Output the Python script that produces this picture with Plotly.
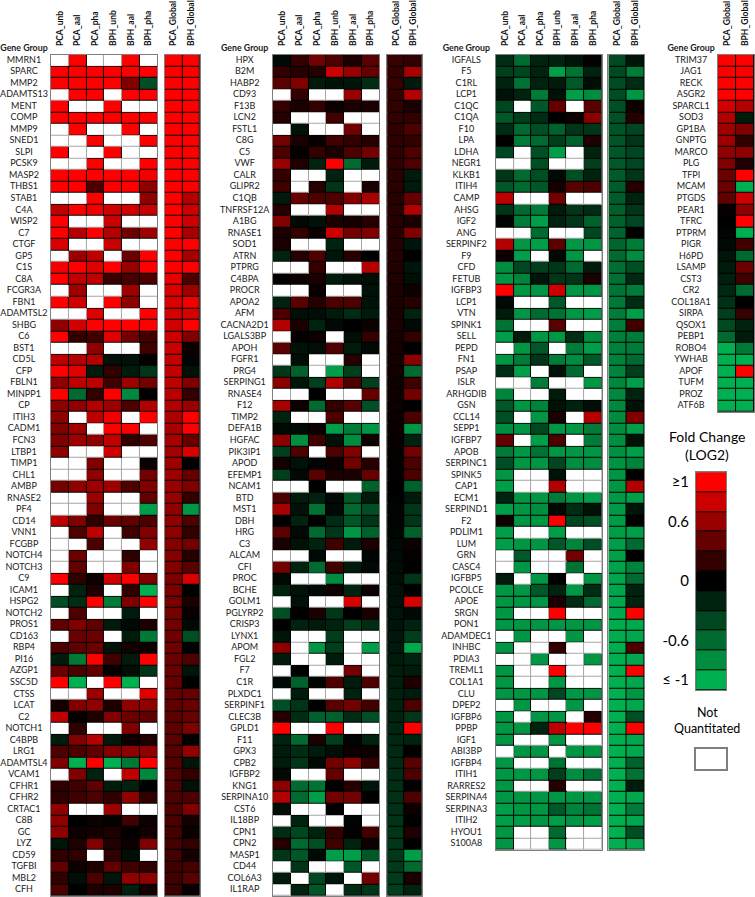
import plotly.graph_objects as go

N = None  # not quantitated (white cell)

cols_main = ["PCA_unb", "PCA_aal", "PCA_pha", "BPH_unb", "BPH_aal", "BPH_pha"]
cols_global = ["PCA_Global", "BPH_Global"]

# ---------------- panel 1 ----------------
p1_genes = ["MMRN1", "SPARC", "MMP2", "ADAMTS13", "MENT", "COMP", "MMP9", "SNED1", "SLPI", "PCSK9",
            "MASP2", "THBS1", "STAB1", "C4A", "WISP2", "C7", "CTGF", "GP5", "C1S", "C8A",
            "FCGR3A", "FBN1", "ADAMTSL2", "SHBG", "C6", "BST1", "CD5L", "CFP", "FBLN1", "MINPP1",
            "CP", "ITIH3", "CADM1", "FCN3", "LTBP1", "TIMP1", "CHL1", "AMBP", "RNASE2", "PF4",
            "CD14", "VNN1", "FCGBP", "NOTCH4", "NOTCH3", "C9", "ICAM1", "HSPG2", "NOTCH2", "PROS1",
            "CD163", "RBP4", "PI16", "AZGP1", "SSC5D", "CTSS", "LCAT", "C2", "NOTCH1", "C4BPB",
            "LRG1", "ADAMTSL4", "VCAM1", "CFHR1", "CFHR2", "CRTAC1", "C8B", "GC", "LYZ", "CD59",
            "TGFBI", "MBL2", "CFH"]
p1_main = [
    [N, 1, N, N, 1, N], [1, 1, 1, 1, 1, 1], [1, 1, 1, 1, 0.5, -0.45], [N, 1, 1, N, 1, 1],
    [1, N, N, 1, N, N], [1, 1, 1, 1, 1, 1], [N, 1, N, N, 1, N], [N, N, 1, N, N, 1],
    [1, N, N, 1, N, N], [N, N, 1, N, N, 1], [1, 1, 1, 1, 1, 0.95], [1, 1, 0.3, 1, 1, 0.56],
    [N, N, 1, N, N, 0.56], [0.75, 1, 0.95, 0.82, 0.82, 0.78], [1, N, N, 0.78, N, N],
    [1, 0.7, 1, 0.7, 0.42, 0.62], [0.85, N, N, 0.78, N, N], [N, 0.6, 0.75, N, 0.42, 1],
    [0.95, 1, 0.88, 1, 0.6, 1], [1, 0.75, 0.75, 0.22, 0.28, 0.3], [N, 0.62, N, N, 0.62, N],
    [1, 0.82, N, 1, 0.56, N], [N, N, 0.88, N, N, 1], [0.56, 0.82, 1, 1, 1, 1],
    [1, 0.2, 0.25, 0.88, 0.45, 0.25], [N, N, 0.56, N, N, 0.25], [0.75, 0.7, 0.7, -0.1, -0.1, 0.02],
    [1, 0.88, -0.15, 0.2, -0.15, -0.3], [0.56, 0.75, 0.75, 0.25, 0.62, 0.45],
    [1, -0.6, 0.2, 1, -0.78, 0], [0.56, 0.56, 0.7, 0.62, 0.3, 0.7], [0.56, N, 0.75, 0.95, N, 1],
    [0.5, 0.62, N, 1, 1, N], [0.5, 0.62, 0.56, 0.75, 0.18, 0.3], [0.56, N, N, 0.82, N, N],
    [N, N, 0.5, N, N, 0.05], [N, N, 0.56, N, N, 0.45], [0.45, 0.56, 0.62, 0.62, 0.3, 0.5],
    [N, N, 0.62, N, N, 0.38], [N, N, 0.5, N, N, -0.9], [0.75, 0.5, 0.18, 0.42, 0.38, 0.3],
    [N, 0.3, 0.75, N, 0.25, 0.5], [N, N, 0.3, N, N, 0.56], [N, 0.42, N, N, 0.18, N],
    [N, 0.38, N, N, 0.5, N], [1, 0.18, 0.05, 0.82, 1, 0.5], [N, -0.2, 0.12, N, 0.18, -1],
    [-0.45, -0.25, 1, -0.7, 0.5, 1], [N, 0.3, N, N, -0.15, N], [0.38, 0.5, 0.38, -0.15, -0.05, 0.12],
    [N, 0.42, 0.42, N, -0.15, -0.68], [0.3, 0.38, 0.42, -0.1, 0.08, 0.05],
    [-0.15, -0.68, 1, 0.25, -0.15, 1], [0.42, 0.3, 0.38, 0.02, -0.08, -0.3],
    [1, -1, N, 1, -1, N], [N, N, 0.62, N, N, 0.88], [0.08, 0.5, 0.56, 0.12, 0.56, 0.56],
    [0.75, 0.02, 0.12, 0.5, 0.42, 0.38], [N, 0.18, N, N, 0.5, N], [-0.15, 0.5, 0.7, -0.15, 0.05, 0.12],
    [0.3, 0.3, 0.38, 0.5, 0.56, 0.56], [0.5, -1, 1, -1, -0.68, 1], [N, 0.5, -0.2, N, 0.75, -0.78],
    [0.18, 0.25, 0.38, -0.15, -0.2, 0], [0.18, 0.25, 0.3, 0.18, 0.56, 0.18], [0.56, N, N, 0.62, N, N],
    [0.56, 0, 0.05, 0.02, 0.25, 0.05], [0.56, 0.05, 0.08, 0.12, 0.02, 0.08],
    [-0.12, 0.12, 0.5, 0.12, 0.05, 0.5], [0.18, 0.18, N, 0.18, -0.08, N],
    [0.38, 0.05, 0.12, 0.38, 0.25, 0.18], [0.18, -0.08, 0.3, -0.12, 0.56, 0.56],
    [0.3, 0, 0.12, 0.12, -0.18, 0.08],
]
p1_global = [
    [1, 1], [1, 1], [1, 1], [1, 1], [1, 1], [1, 1], [1, 1], [1, 1], [1, 1], [1, 1],
    [1, 1], [1, 1], [1, 0.7], [1, 0.8], [1, 0.8], [1, 0.65], [1, 1], [1, 0.65], [1, 1], [0.9, 0.3],
    [0.85, 0.62], [0.85, 0.95], [0.84, 0.85], [0.82, 1], [0.8, 0.5], [0.79, 0.05], [0.77, -0.02],
    [0.76, -0.1], [0.74, 0.5], [0.72, 0.2], [0.7, 0.6], [0.68, 1], [0.66, 1], [0.65, 0.4],
    [0.64, 0.85], [0.62, 0], [0.61, 0.4], [0.6, 0.5], [0.59, 0.2], [0.57, -0.85], [0.56, 0.3],
    [0.55, 0.2], [0.53, 0.45], [0.52, 0.15], [0.51, 0.35], [0.49, 0.85], [0.48, 0],
    [0.47, 0.1], [0.46, 0.03], [0.45, -0.05], [0.44, -0.45], [0.43, 0], [0.42, 0.3],
    [0.41, -0.12], [0.4, 0], [0.39, 0.4], [0.38, 0.42], [0.37, 0.42], [0.36, 0.5], [0.35, 0],
    [0.34, 0.58], [0.33, -0.12], [0.32, 0.2], [0.31, -0.1], [0.3, 0.3], [0.3, 0.5], [0.29, 0.08],
    [0.28, 0.04], [0.27, 0.2], [0.26, 0.08], [0.25, 0.28], [0.25, 0.35], [0.24, 0.03],
]

# ---------------- panel 2 ----------------
p2_genes = ["HPX", "B2M", "HABP2", "CD93", "F13B", "LCN2", "FSTL1", "C8G", "C5", "VWF",
            "CALR", "GLIPR2", "C1QB", "TNFRSF12A", "A1BG", "RNASE1", "SOD1", "ATRN", "PTPRG", "C4BPA",
            "PROCR", "APOA2", "AFM", "CACNA2D1", "LGALS3BP", "APOH", "FGFR1", "PRG4", "SERPING1", "RNASE4",
            "F12", "TIMP2", "DEFA1B", "HGFAC", "PIK3IP1", "APOD", "EFEMP1", "NCAM1", "BTD", "MST1",
            "DBH", "HRG", "C3", "ALCAM", "CFI", "PROC", "BCHE", "GOLM1", "PGLYRP2", "CRISP3",
            "LYNX1", "APOM", "FGL2", "F7", "C1R", "PLXDC1", "SERPINF1", "CLEC3B", "GPLD1", "F11",
            "GPX3", "CPB2", "IGFBP2", "KNG1", "SERPINA10", "CST6", "IL18BP", "CPN1", "CPN2", "MASP1",
            "CD44", "COL6A3", "IL1RAP"]
p2_main = [
    [-0.05, 0.2, 0.45, 0.3, 0.1, 0.35], [0.2, 0.15, 0.15, 0.8, 0.6, 0.4],
    [0.35, 0.5, -0.15, -0.1, -0.12, -0.25], [N, 0.2, N, N, 0.6, N], [0.2, 0.1, 0.2, 0.05, 0.1, 0.1],
    [0.15, N, N, 0.25, N, N], [N, -0.1, N, N, 0.45, N], [0.45, 0.1, 0.03, 0.25, 0.2, 0.15],
    [0.3, 0.02, 0.2, 0.1, 0.3, 0.45], [0.6, 0.12, -0.2, 1, -0.6, -0.15], [0.2, N, N, -0.2, N, N],
    [0.25, N, 0.15, -0.3, N, 0.1], [-0.15, 0.4, 0.3, 0.3, 0.5, 0.65], [0.15, N, N, 0.7, N, N],
    [0.5, -0.05, -0.1, 0.1, 0.08, 0.15], [0.1, 0.2, 0.05, 0.8, 0.45, 0.5], [0.1, N, N, -0.2, N, N],
    [-0.2, 0.15, 0.3, -0.12, 0.15, 0], [N, N, 0.2, N, N, 0.7], [0.02, 0.05, 0.1, -0.15, -0.1, -0.08],
    [N, N, 0.03, N, N, -0.1], [-0.2, 0.35, 0.15, 0.3, 0.3, -0.1],
    [0.3, -0.08, -0.08, -0.15, -0.25, -0.15], [0.7, 0.1, -0.2, -0.05, 0, 0.05],
    [N, 0.02, 0.05, N, -0.08, 0.2], [0.35, -0.1, -0.08, 0.3, -0.15, -0.05], [N, -0.08, N, N, 0.15, N],
    [-0.3, -0.55, N, -0.9, -0.35, N], [0.55, -0.12, -0.35, 0.7, 0.3, -0.35], [N, N, 0, N, N, 0.4],
    [0.65, 0.05, -0.6, 0.2, 0.35, -0.45], [-0.2, N, N, 0.3, N, N],
    [-0.05, -0.05, 0.05, -0.9, -0.7, -0.85], [0.55, -0.8, 0.25, -0.1, -0.8, 0.05],
    [-0.35, 0.3, N, 0.3, 0.5, N], [0.08, -0.1, -0.02, 0.05, 0.45, 0.15],
    [-0.35, -0.05, 0.35, 0.1, 0.1, 0.4], [N, N, 0, N, N, -0.55], [0.3, -0.15, -0.2, -0.05, -0.5, -0.15],
    [0.65, -0.1, -0.65, -0.05, -0.6, -0.45], [0, -0.2, 0, -0.25, -0.5, -0.3],
    [0.35, -0.05, -0.6, -0.3, -0.85, -0.55], [0.1, -0.1, -0.2, 0.25, -0.15, 0.1],
    [N, N, -0.05, N, N, -0.02], [0.45, -0.2, -0.6, 0.25, -0.15, -0.05], [-0.05, N, N, -0.8, N, N],
    [-0.2, -0.1, -0.05, 0.05, -0.2, 0.05], [N, -0.1, N, N, 0.85, N], [-0.45, 0, 0.1, -0.3, 0, 0.1],
    [0, -0.2, -0.15, -0.2, -0.35, -0.25], [-0.12, N, N, -0.35, N, N], [0.55, N, -0.85, -0.35, N, -0.9],
    [-0.15, N, N, -0.15, N, N], [N, 0, N, N, 0.45, N], [-0.05, -0.55, -0.03, 0.3, -0.15, 0.3],
    [N, -0.15, N, N, -0.2, N], [-0.45, -0.3, 0, 0.35, 0.45, 0.25],
    [0.15, -0.25, -0.55, -0.55, -0.25, -0.45], [1, N, N, 1, N, N], [-0.2, -0.6, 0.1, -0.35, -0.02, -0.2],
    [-0.15, -0.25, -0.15, -0.08, 0.05, 0.05], [-0.15, -0.3, -0.05, 0.45, 0.55, 0.2],
    [-0.05, N, N, 0.4, N, N], [0.55, -0.6, -0.65, 0, 0.15, -0.12], [0.7, -0.6, -0.9, 0.45, 0.45, 0],
    [-0.08, N, N, 0, N, N], [N, -0.2, N, N, -0.02, N], [-0.25, -0.4, -0.2, 0.2, 0.02, 0.25],
    [0.15, -0.6, -0.45, 0.25, -0.2, 0.05], [-0.3, -0.5, -0.05, -0.9, -0.9, -0.5], [N, -0.3, N, N, -0.5, N],
    [-0.15, N, -0.4, -0.12, N, 0.45], [N, -0.2, -0.5, N, -0.25, -0.3],
]
p2_global = [
    [0.22, 0.2], [0.21, 0.65], [0.21, -0.15], [0.2, 0.7], [0.2, 0.1], [0.2, 0.2], [0.19, 0.3],
    [0.19, 0.2], [0.18, 0.3], [0.18, 0.3], [0.17, -0.15], [0.17, -0.15], [0.16, 0.4], [0.16, 0.7],
    [0.15, 0.1], [0.15, 0.5], [0.14, -0.12], [0.14, 0], [0.13, -0.12], [0.13, -0.08], [0.12, 0.05],
    [0.11, 0.15], [0.1, -0.2], [0.1, -0.05], [0.09, 0.2], [0.08, 0], [0.08, 0.55], [0.07, -0.6],
    [0.06, 0.25], [0.06, 0.45], [0.05, 0], [0.04, 0.3], [0.04, -0.85], [0.03, -0.2], [0.02, 0.45],
    [0.02, 0.3], [0.01, 0.3], [0, -0.55], [-0.01, -0.15], [-0.02, -0.3], [-0.03, -0.3], [-0.04, -0.55],
    [-0.05, 0.05], [-0.06, 0.02], [-0.07, 0], [-0.08, -0.3], [-0.09, 0], [-0.1, 0.85], [-0.11, -0.05],
    [-0.12, -0.2], [-0.13, -0.35], [-0.14, -0.95], [-0.15, -0.2], [-0.16, -0.15], [-0.17, 0.12],
    [-0.18, -0.15], [-0.19, 0.3], [-0.2, -0.3], [-0.21, 1], [-0.22, -0.2], [-0.23, 0], [-0.24, 0.35],
    [-0.25, 0.3], [-0.26, 0], [-0.27, 0.3], [-0.28, 0.05], [-0.29, 0], [-0.3, 0.12], [-0.31, 0],
    [-0.32, -0.9], [-0.33, -0.6], [-0.34, 0.1], [-0.35, -0.2],
]

# ---------------- panel 3 ----------------
p3_genes = ["IGFALS", "F5", "C1RL", "LCP1", "C1QC", "C1QA", "F10", "LPA", "LDHA", "NEGR1",
            "KLKB1", "ITIH4", "CAMP", "AHSG", "IGF2", "ANG", "SERPINF2", "F9", "CFD", "FETUB",
            "IGFBP3", "LCP1", "VTN", "SPINK1", "SELL", "PEPD", "FN1", "PSAP", "ISLR", "ARHGDIB",
            "GSN", "CCL14", "SEPP1", "IGFBP7", "APOB", "SERPINC1", "SPINK5", "CAP1", "ECM1", "SERPIND1",
            "F2", "PDLIM1", "LUM", "GRN", "CASC4", "IGFBP5", "PCOLCE", "APOE", "SRGN", "PON1",
            "ADAMDEC1", "INHBC", "PDIA3", "TREML1", "COL1A1", "CLU", "DPEP2", "IGFBP6", "PPBP", "IGF1",
            "ABI3BP", "IGFBP4", "ITIH1", "RARRES2", "SERPINA4", "SERPINA3", "ITIH2", "HYOU1", "S100A8"]
p3_main = [
    [-0.25, -0.6, -0.2, -0.2, -0.12, 0.02], [-0.35, -0.4, -0.2, -0.9, -0.65, -0.2],
    [-0.2, -0.65, -0.2, -0.15, -0.5, -0.08], [-0.1, -0.2, -0.7, -0.1, -0.9, -0.8],
    [-0.4, N, -0.5, 0.4, N, 0.35], [-0.5, -0.35, -0.25, 0, 0.05, 0.55],
    [-0.25, -0.6, -0.45, -0.55, -0.3, -0.3], [0, -0.7, -0.6, -0.35, -0.55, 0.12],
    [-0.4, N, -0.45, -0.9, N, -0.2], [N, N, -0.45, N, N, -0.35],
    [-0.3, -0.6, -0.45, -0.05, -0.45, -0.2], [-0.5, -0.6, -0.5, 0.08, 0.35, 0.3],
    [0.75, N, N, 0.45, N, N], [-0.3, -0.6, -0.7, -0.15, -0.3, -0.25],
    [-0.02, -0.7, -0.9, -0.2, -0.3, -0.55], [N, N, -0.6, N, N, -0.4],
    [0.7, -0.85, -0.9, 0.35, -0.85, -0.85], [0.05, -0.9, N, -0.05, -0.85, N],
    [-0.8, -0.4, -0.35, -0.3, -0.6, -0.15], [-0.85, -0.75, -0.12, -0.3, -0.3, 0.1],
    [1, -0.85, -0.85, 0.8, -0.85, -0.85], [-0.05, N, N, -0.5, N, N],
    [-0.15, -0.85, -0.6, -0.65, -0.85, -0.9], [-0.65, N, N, 0.35, N, N],
    [-0.9, -0.15, -0.85, -0.85, -0.25, -0.8], [N, -0.85, -0.5, N, -0.7, -0.9],
    [-0.85, -0.7, -0.3, -0.7, -0.8, -0.5], [-0.25, -0.9, N, -0.1, -0.6, N],
    [N, N, -0.7, N, N, -0.85], [-0.75, N, N, -0.15, N, N],
    [-0.5, -0.85, -0.75, -0.1, -0.2, -0.08], [-0.45, N, -0.85, 0.1, N, 0.7],
    [-0.8, -0.85, -0.4, -0.85, -0.85, -0.7], [0.4, N, -0.9, 0.3, N, -0.7],
    [-0.7, -0.85, -0.65, -0.85, -0.85, -0.85], [-0.45, -0.85, -0.85, -0.4, -0.8, -0.8],
    [-0.85, N, N, -0.1, N, N], [-0.9, N, N, 0.7, N, N],
    [-0.2, -0.85, -0.85, -0.7, -0.85, -0.9], [-0.9, -0.85, -0.8, -0.05, -0.25, -0.1],
    [0.05, -0.85, -0.85, 1, -0.4, -0.45], [-0.9, N, N, -0.9, N, N],
    [-0.9, -0.85, -0.85, -0.5, -0.75, -0.45], [N, -0.5, N, N, 0.45, N],
    [N, -0.85, N, N, -0.65, N], [-0.15, N, -0.85, 0, N, -0.85],
    [-0.85, -0.85, -0.5, -0.2, -0.85, -0.25], [-0.85, -0.85, -0.85, 0.1, -0.25, -0.6],
    [-0.85, N, N, 1, N, N], [-0.85, -0.85, -0.85, -0.85, -0.85, -0.85],
    [N, -0.85, N, N, -0.85, N], [-0.85, N, N, 0.2, N, N], [N, N, -0.85, N, N, -0.85],
    [-0.85, N, N, 1, N, N], [-0.85, N, N, -0.85, N, N], [-0.85, -0.85, -0.85, -0.4, -0.85, -0.85],
    [N, -0.85, N, N, -0.85, N], [-0.85, N, -0.85, -0.85, N, 0.15],
    [-0.85, -0.85, -0.2, 0.75, 1, 1], [-0.85, N, N, -0.85, N, N], [N, -0.85, -0.85, N, -0.85, -0.85],
    [-0.85, N, N, -0.65, N, N], [-0.85, -0.85, -0.85, -0.35, -0.8, -0.65],
    [-0.85, N, N, 0.15, N, N], [-0.85, -0.85, -0.85, -0.85, -0.85, -0.85],
    [-0.9, -0.85, -0.85, -0.5, -0.75, -0.65], [-0.9, -0.9, -0.85, -0.9, -0.85, -0.9],
    [-0.85, N, N, -0.6, N, N], [-0.85, N, N, -0.85, N, N],
]
p3_global = [
    [-0.42, -0.12], [-0.42, -0.7], [-0.43, -0.25], [-0.44, -0.85], [-0.45, 0.05], [-0.46, 0.15],
    [-0.47, -0.4], [-0.48, -0.3], [-0.49, -0.4], [-0.5, -0.4], [-0.51, -0.3], [-0.52, 0.15],
    [-0.53, -0.2], [-0.54, -0.3], [-0.55, -0.4], [-0.56, 0], [-0.58, -0.7], [-0.6, -0.8],
    [-0.62, -0.45], [-0.64, -0.22], [-0.66, -0.7], [-0.68, -0.25], [-0.7, -0.9], [-0.71, 0.25],
    [-0.72, -0.7], [-0.73, -0.7], [-0.74, -0.6], [-0.75, -0.35], [-0.76, -0.9], [-0.77, -0.2],
    [-0.78, -0.1], [-0.79, 0.5], [-0.8, -0.9], [-0.81, -0.1], [-0.82, -0.9], [-0.83, -0.75],
    [-0.84, 0], [-0.85, 0.7], [-0.86, -0.9], [-0.87, -0.12], [-0.88, 0], [-0.89, -0.9],
    [-0.9, -0.6], [-0.91, 0], [-0.92, -0.75], [-0.93, -0.6], [-0.94, -0.2], [-0.95, -0.2],
    [-0.96, 1], [-0.97, -0.95], [-0.98, -0.95], [-0.99, 0.3], [-1, -0.95], [-1, 1], [-1, -0.95],
    [-1, -0.85], [-1, -0.95], [-1, -0.45], [-1, 1], [-1, -0.95], [-1, -0.95], [-1, -0.55],
    [-1, -0.65], [-1, -0.15], [-1, -0.95], [-1, -0.7], [-1, -0.95], [-1, -0.45], [-1, -0.95],
]

# ---------------- panel 4 (global only) ----------------
p4_genes = ["TRIM37", "JAG1", "RECK", "ASGR2", "SPARCL1", "SOD3", "GP1BA", "GNPTG", "MARCO", "PLG",
            "TFPI", "MCAM", "PTGDS", "PEAR1", "TFRC", "PTPRM", "PIGR", "H6PD", "LSAMP", "CST3",
            "CR2", "COL18A1", "SIRPA", "QSOX1", "PEBP1", "ROBO4", "YWHAB", "APOF", "TUFM", "PROZ",
            "ATF6B"]
p4_global = [
    [1, 1], [1, 1], [1, 1], [1, 1], [0.82, 0.7], [0.7, -0.15], [0.62, 0.5], [0.62, 0.18],
    [0.56, 0.56], [0.5, 0.12], [0.42, 1], [0.42, -1], [0.38, 0.82], [0.02, 0.56], [0, 1],
    [-0.02, -1], [-0.05, 0.25], [-0.12, -0.6], [-0.15, 0.42], [-0.18, 0.25], [-0.22, -0.6],
    [-0.28, 0], [-0.35, 0.22], [-0.42, -0.2], [-0.6, -0.15], [-1, -0.68], [-1, -1], [-1, 1],
    [-1, -1], [-1, -1], [-1, -1],
]

# ---------------- colour key ----------------
legend_vals = [1, 0.8, 0.6, 0.4, 0.2, 0, -0.2, -0.4, -0.6, -0.8, -1]
legend_tick_rows = [0, 2, 5, 8, 10]
legend_tick_text = ["≥1", "0.6", "0", "-0.6", "≤ -1"]

# ---------------- layout helpers ----------------
W, H = 755, 897
ROW_H = 11.64
TOP = 47.2
FONT = "Lato"
GREEN_RED = [[0, "#00B050"], [0.5, "#000000"], [1, "#FF0000"]]
FRAME = "#7f7f7f"

fig = go.Figure()
axis_count = [0]


def new_axes(x0, x1, y0, y1):
    axis_count[0] += 1
    k = axis_count[0]
    sfx = "" if k == 1 else str(k)
    fig.update_layout({
        "xaxis" + sfx: dict(domain=[x0 / W, x1 / W], anchor="y" + sfx, showgrid=False,
                            zeroline=False, fixedrange=True),
        "yaxis" + sfx: dict(domain=[1 - y1 / H, 1 - y0 / H], anchor="x" + sfx, showgrid=False,
                            zeroline=False, fixedrange=True),
    })
    return "x" + sfx, "y" + sfx, sfx


def add_block(values, cols, x0, x1):
    n = len(values)
    xa, ya, sfx = new_axes(x0, x1, TOP, TOP + n * ROW_H)
    xs = list(range(len(cols)))
    ys = list(range(n))
    base = [[0 if v is None else 1 for v in row] for row in values]
    blank = [[0 if v is None else None for v in row] for row in values]
    common = dict(x=xs, y=ys, xaxis=xa, yaxis=ya, showscale=False, hoverinfo="skip")
    # borders: grey round empty cells, black round measured ones
    fig.add_trace(go.Heatmap(z=base, colorscale=[[0, "#a6a6a6"], [1, "#000000"]],
                             zmin=0, zmax=1, **common))
    if any(v is None for row in values for v in row):
        fig.add_trace(go.Heatmap(z=blank, colorscale=[[0, "white"], [1, "white"]],
                                 zmin=0, zmax=1, xgap=1, ygap=1, **common))
    fig.add_trace(go.Heatmap(z=values, colorscale=GREEN_RED, zmin=-1, zmax=1,
                             xgap=1, ygap=1, **common))
    fig.update_layout({
        "xaxis" + sfx: dict(range=[-0.5, len(cols) - 0.5], side="top", tickmode="array",
                            tickvals=xs, ticktext=cols, tickangle=-90, ticks="",
                            ticklabelstandoff=6, showline=True, mirror=True,
                            linecolor=FRAME, linewidth=1,
                            tickfont=dict(family=FONT, size=8.5, color="#111", weight="bold")),
        "yaxis" + sfx: dict(range=[n - 0.5, -0.5], showticklabels=False, ticks="",
                            showline=True, mirror=True, linecolor=FRAME, linewidth=1),
    })


def add_labels(genes, x0, x1):
    # one extra row on top holds the "Gene Group" header
    n = len(genes)
    xa, ya, sfx = new_axes(x0, x1, TOP - ROW_H, TOP + n * ROW_H)
    fig.add_trace(go.Scatter(
        x=[0.5] * (n + 1), y=[-1] + list(range(n)),
        text=["<b>Gene Group</b>"] + genes, mode="text",
        textfont=dict(family=FONT, size=[8.8] + [9] * n, color="#1a1a1a"),
        cliponaxis=False, hoverinfo="skip", showlegend=False, xaxis=xa, yaxis=ya))
    fig.update_layout({
        "xaxis" + sfx: dict(range=[0, 1], visible=False),
        "yaxis" + sfx: dict(range=[n - 0.5, -1.5], visible=False),
    })


# panel 1
add_labels(p1_genes, 1, 47)
add_block(p1_main, cols_main, 51, 157.7)
add_block(p1_global, cols_global, 165, 200.5)
# panel 2
add_labels(p2_genes, 218, 272)
add_block(p2_main, cols_main, 273.3, 380)
add_block(p2_global, cols_global, 387.7, 422.3)
# panel 3
add_labels(p3_genes, 440, 494)
add_block(p3_main, cols_main, 496.7, 602.5)
add_block(p3_global, cols_global, 609.3, 645)
# panel 4
add_labels(p4_genes, 665, 719)
add_block(p4_global, cols_global, 719, 755)

# colour key
xa, ya, sfx = new_axes(697, 727, 469, 689)
key_z = [[v] for v in legend_vals]
key_y = list(range(len(legend_vals)))
fig.add_trace(go.Heatmap(z=[[0] for _ in legend_vals], x=[0], y=key_y, xaxis=xa, yaxis=ya,
                         colorscale=[[0, "#000000"], [1, "#000000"]], showscale=False,
                         hoverinfo="skip"))
fig.add_trace(go.Heatmap(z=key_z, x=[0], y=key_y, xaxis=xa, yaxis=ya, colorscale=GREEN_RED,
                         zmin=-1, zmax=1, ygap=1, showscale=False, hoverinfo="skip"))
fig.update_layout({
    "xaxis" + sfx: dict(range=[-0.5, 0.5], showticklabels=False, ticks="", showline=True,
                        mirror=True, linecolor=FRAME),
    "yaxis" + sfx: dict(range=[len(legend_vals) - 0.5, -0.5], tickmode="array",
                        tickvals=legend_tick_rows, ticktext=legend_tick_text, ticks="",
                        ticklabelstandoff=3, showline=True, mirror=True, linecolor=FRAME,
                        tickfont=dict(family=FONT, size=15, color="#000")),
})

# "not quantitated" swatch
xa, ya, sfx = new_axes(697, 727, 749, 769)
fig.add_trace(go.Heatmap(z=[[0]], x=[0], y=[0], xaxis=xa, yaxis=ya,
                         colorscale=[[0, "white"], [1, "white"]], showscale=False,
                         hoverinfo="skip"))
fig.update_layout({
    "xaxis" + sfx: dict(range=[-0.5, 0.5], showticklabels=False, ticks="", showline=True,
                        mirror=True, linecolor=FRAME, linewidth=1.5),
    "yaxis" + sfx: dict(range=[-0.5, 0.5], showticklabels=False, ticks="", showline=True,
                        mirror=True, linecolor=FRAME, linewidth=1.5),
})

for txt, ypx, size in [("Fold Change", 433, 14), ("(LOG2)", 451, 14),
                       ("Not", 712, 12.5), ("Quantitated", 728, 12.5)]:
    fig.add_annotation(text=txt, x=708 / W, y=1 - ypx / H, xref="paper", yref="paper",
                       xanchor="center", yanchor="middle", showarrow=False,
                       font=dict(family=FONT, size=size, color="#000"))

fig.update_layout(width=W, height=H, margin=dict(l=0, r=0, t=0, b=0),
                  paper_bgcolor="white", plot_bgcolor="white", showlegend=False,
                  font=dict(family=FONT))

# the page's default 8px body margin would push the figure off-window
fig.write_html("out.html", config={"displayModeBar": False},
               post_script="document.body.style.margin='0';")
